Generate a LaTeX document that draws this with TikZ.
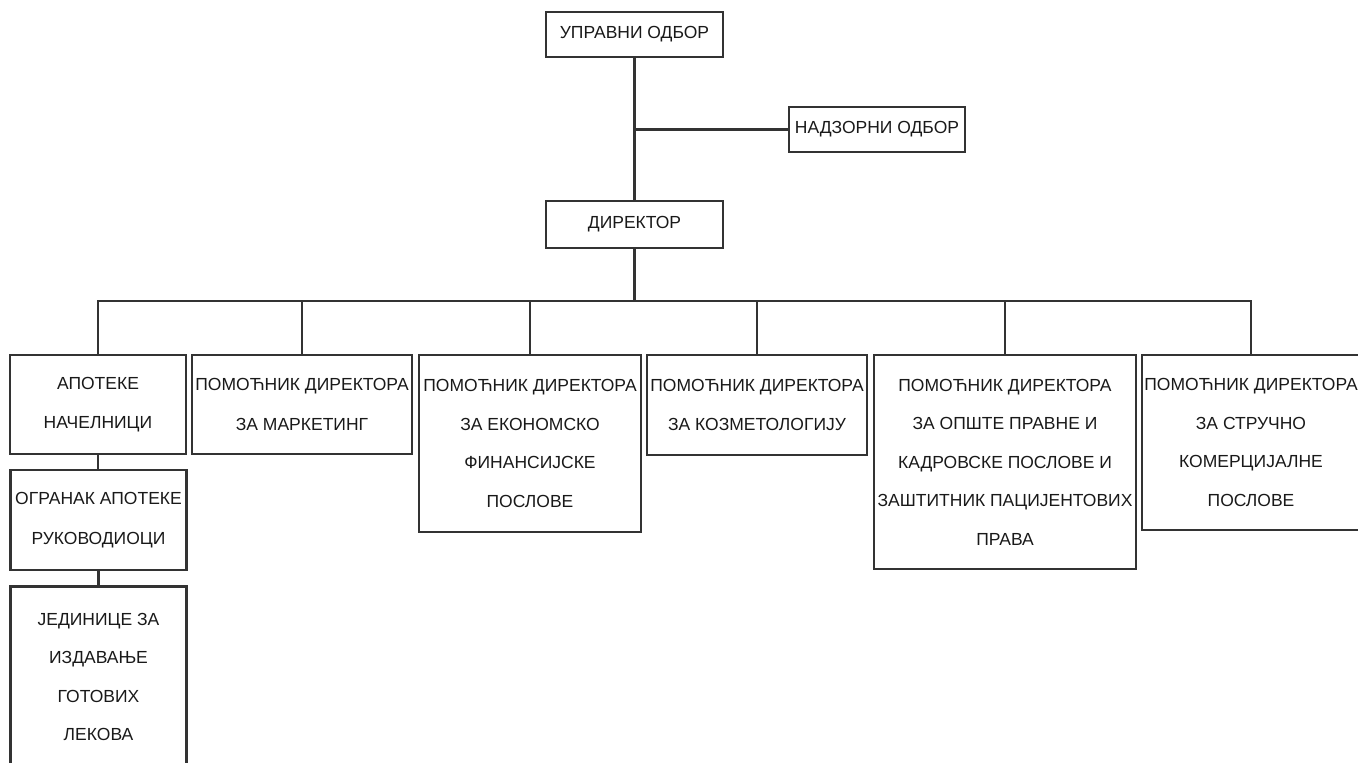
\documentclass[tikz,border=0pt]{standalone}
\usepackage{fontspec}
\setmainfont{Liberation Sans}
\begin{document}
\begin{tikzpicture}[x=1pt,y=-1pt,
  box/.style={draw=black!80, line width=2.2pt, fill=none, text=black!90,
    align=center, inner sep=0pt,
    font=\fontsize{17.5}{38.5}\selectfont},
  conn/.style={draw=black!80, line width=2.2pt}]
\useasboundingbox (0,0) rectangle (1358,763);

\node[box, minimum width=177pt, minimum height=45pt] (upr) at (634.5,34.5) {УПРАВНИ ОДБОР};
\node[box, minimum width=176pt, minimum height=45pt] (nadz) at (877,129.5) {НАДЗОРНИ ОДБОР};
\node[box, minimum width=177pt, minimum height=47pt] (dir) at (634.5,224.5) {ДИРЕКТОР};

\node[box, minimum width=176pt, minimum height=99pt] (apo) at (98,404.5) {АПОТЕКЕ\\[1pt]НАЧЕЛНИЦИ};
\node[box, minimum width=176pt, minimum height=100pt] (ogr) at (98.5,520) {ОГРАНАК АПОТЕКЕ\\[1pt]РУКОВОДИОЦИ};
\node[box, minimum width=176pt, minimum height=181pt] (jed) at (98.5,677) {ЈЕДИНИЦЕ ЗА\\ИЗДАВАЊЕ\\ГОТОВИХ\\ЛЕКОВА};

\node[box, minimum width=220pt, minimum height=99pt] (mark) at (302,404.5) {ПОМОЋНИК ДИРЕКТОРА\\[1pt]ЗА МАРКЕТИНГ};
\node[box, minimum width=222pt, minimum height=177pt] (eko) at (530,443.5) {ПОМОЋНИК ДИРЕКТОРА\\ЗА ЕКОНОМСКО\\ФИНАНСИЈСКЕ\\ПОСЛОВЕ};
\node[box, minimum width=220pt, minimum height=100pt] (koz) at (757,405) {ПОМОЋНИК ДИРЕКТОРА\\[1pt]ЗА КОЗМЕТОЛОГИЈУ};
\node[box, minimum width=262pt, minimum height=214pt] (opst) at (1005,462) {ПОМОЋНИК ДИРЕКТОРА\\ЗА ОПШТЕ ПРАВНЕ И\\КАДРОВСКЕ ПОСЛОВЕ И\\ЗАШТИТНИК ПАЦИЈЕНТОВИХ\\ПРАВА};
\node[box, minimum width=218pt, minimum height=175pt] (stru) at (1251,442.5) {ПОМОЋНИК ДИРЕКТОРА\\ЗА СТРУЧНО\\КОМЕРЦИЈАЛНЕ\\ПОСЛОВЕ};

\draw[conn] (upr.south) -- (dir.north);
\draw[conn] (nadz.west) -- (nadz.west -| upr.south);
\draw[conn] (dir.south) -- ++(0,52) coordinate (bus);
\foreach \n in {apo,mark,eko,koz,opst,stru}
  \draw[conn] (\n.north) |- (bus);
\draw[conn] (apo.south) -- (apo.south |- ogr.north);
\draw[conn] (ogr.south) -- (ogr.south |- jed.north);
\end{tikzpicture}
\end{document}
